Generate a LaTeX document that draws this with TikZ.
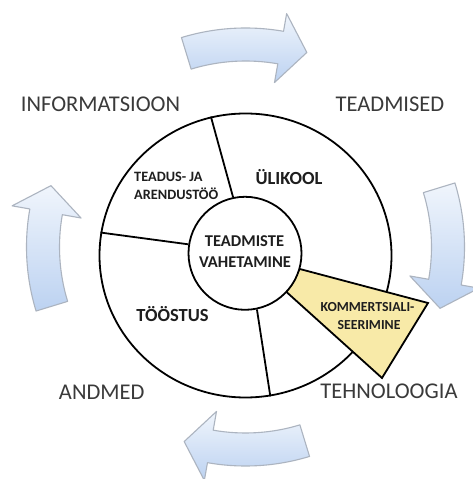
\documentclass[tikz,border=0pt]{standalone}
\usepackage{fontspec}
\setmainfont{Carlito}
\usetikzlibrary{shapes.geometric}

\definecolor{arrowlight}{RGB}{240,245,252}
\definecolor{arrowdeep}{RGB}{188,210,241}
\definecolor{arrowedge}{RGB}{172,180,192}
\definecolor{commerce}{RGB}{248,234,168}
\definecolor{outertext}{RGB}{58,58,58}
\definecolor{innertext}{RGB}{30,30,30}

\tikzset{
  ring/.style={draw=black, line width=1.8pt, fill=white},
  divider/.style={draw=black, line width=1.8pt},
  cyclearrow/.style={top color=arrowlight, bottom color=arrowdeep, draw=arrowedge, line width=1.1pt, line join=round},
  stagelabel/.style={inner sep=0pt, anchor=base, text=outertext, font=\fontsize{22.5}{26}\selectfont},
  sectorlabel/.style={inner sep=0pt, anchor=base, text=innertext, font=\bfseries\fontsize{18.5}{22}\selectfont},
  hublabel/.style={inner sep=0pt, anchor=base, text=innertext, font=\bfseries\fontsize{16.5}{20}\selectfont},
  smalllabel/.style={inner sep=0pt, text=innertext, font=\bfseries\fontsize{14.3}{17}\selectfont},
}

\begin{document}
\begin{tikzpicture}[x=1pt,y=1pt]
  \fill[white] (0,0) rectangle (473,479);
  \useasboundingbox (0,0) rectangle (473,479);

  % four curved block arrows turning clockwise around the wheel
  \begin{scope}[shift={(245.5,232)}]
    \foreach \a in {0,-90,-180,-270} {
      \pgfmathsetmacro{\tail}{107+\a}
      \pgfmathsetmacro{\head}{80+\a}
      \pgfmathsetmacro{\tip}{72.5+\a}
      \shadedraw[cyclearrow]
        (\tail:219pt) arc[start angle=\tail, end angle=\head, radius=219pt]
        -- (\head:237pt) -- (\tip:204pt) -- (\head:167pt) -- (\head:186pt)
        arc[start angle=\head, end angle=\tail, radius=186pt] -- cycle;
    }
  \end{scope}

  % outer wheel
  \node[ring, ellipse, minimum width=292pt, minimum height=284pt, inner sep=0pt] (rim) at (245.5,223.5) {};

  % commercialisation wedge
  \coordinate (kR) at (428,176);
  \coordinate (kB) at (382,101);
  \node[circle, minimum size=113pt, inner sep=0pt] (hubpos) at (245,225.7) {};
  \draw[line width=1.8pt, fill=commerce, line join=miter]
    (hubpos.-16) -- (kR) -- (kB) -- (hubpos.-43) -- cycle;

  % hub
  \node[ring, circle, minimum size=113pt, inner sep=0pt] (hub) at (245,225.7) {};

  % sector dividers
  \draw[divider] (hub.102.4) -- (rim.104.6);
  \draw[divider] (hub.171.7) -- (rim.171.1);
  \draw[divider] (hub.-78.4) -- (rim.-80.6);

  % stage labels
  \node[stagelabel] (info) at (100.5,367) {INFORMATSIOON};
  \node[stagelabel] (know) at (390,367) {TEADMISED};
  \node[stagelabel] (data) at (101.7,79) {ANDMED};
  \node[stagelabel] (tech) at (389,80.7) {TEHNOLOOGIA};

  % sector labels
  \node[sectorlabel] (uni) at (289,294) {ÜLIKOOL};
  \node[sectorlabel] (ind) at (172.5,157.3) {TÖÖSTUS};
  \node[smalllabel, anchor=base west] (rd1) at (134,297.3) {TEADUS- JA};
  \node[smalllabel, anchor=base west] (rd2) at (134,279) {ARENDUSTÖÖ};
  \node[hublabel] (hub1) at (244.5,232.3) {TEADMISTE};
  \node[hublabel] (hub2) at (245,211.7) {VAHETAMINE};
  \node[smalllabel, anchor=base, font=\bfseries\fontsize{13.8}{16}\selectfont] (com1) at (367.5,167.3) {KOMMERTSIALI-};
  \node[smalllabel, anchor=base, font=\bfseries\fontsize{13.8}{16}\selectfont] (com2) at (369,149) {SEERIMINE};
\end{tikzpicture}
\end{document}
